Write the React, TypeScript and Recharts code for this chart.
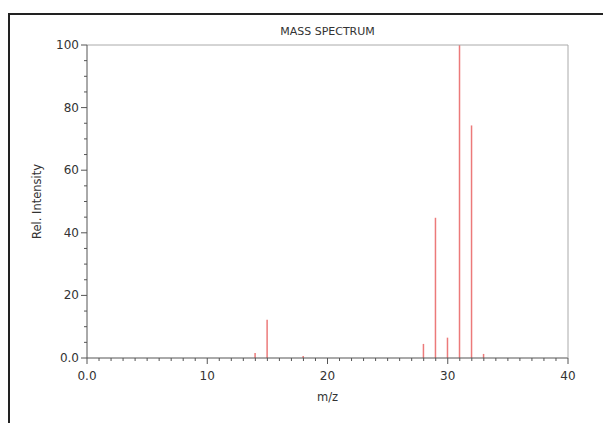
import { BarChart, Bar, XAxis, YAxis } from 'recharts';

// m/z values and relative intensities
const mzValues = [14, 15, 18, 28, 29, 30, 31, 32, 33];
const intensities = [1.6, 12.2, 0.6, 4.5, 44.8, 6.5, 100, 74.3, 1.3];

const xMajorTicks = [0, 10, 20, 30, 40];
const yMajorTicks = [0, 20, 40, 60, 80, 100];
const xMinorTicks = Array.from({ length: 41 }, (_, i) => i);
const yMinorTicks = Array.from({ length: 21 }, (_, i) => i * 5);

const data = mzValues.map((mz, i) => ({ mz, intensity: intensities[i] }));

const FONT = '"DejaVu Sans", sans-serif';
const AXIS = '#555';
const BOX = '#aaa';
const PEAK = '#ec7a7a';
const TEXT = '#333';

const fmt = (v: number) => (v === 0 ? '0.0' : String(v));

// minor tick line comes from recharts; majors get a longer line and a label
function XTick(props: any) {
  const { x, y, payload } = props;
  if (!xMajorTicks.includes(payload.value)) return null;
  return (
    <g>
      <line x1={x} x2={x} y1={y} y2={y + 3} stroke={AXIS} />
      <text
        x={x}
        y={y + 19}
        textAnchor='middle'
        fill={TEXT}
        fontSize={12}
        fontFamily={FONT}
      >
        {fmt(payload.value)}
      </text>
    </g>
  );
}

function YTick(props: any) {
  const { x, y, payload } = props;
  if (!yMajorTicks.includes(payload.value)) return null;
  return (
    <g>
      <line x1={x} x2={x - 3} y1={y} y2={y} stroke={AXIS} />
      <text
        x={x - 5}
        y={y + 4}
        textAnchor='end'
        fill={TEXT}
        fontSize={12}
        fontFamily={FONT}
      >
        {fmt(payload.value)}
      </text>
    </g>
  );
}

export default function App() {
  return (
    <div
      style={{
        position: 'relative',
        width: 603,
        height: 415,
        overflow: 'hidden',
        fontFamily: FONT,
      }}
    >
      <div
        style={{
          position: 'absolute',
          left: 0,
          top: 5,
          width: 620,
          height: 430,
          border: '2px solid #222',
        }}
      />
      <div
        style={{
          position: 'absolute',
          left: 79,
          width: 481,
          top: 17,
          textAlign: 'center',
          fontSize: 11,
          color: TEXT,
        }}
      >
        MASS SPECTRUM
      </div>
      <div style={{ position: 'absolute', left: 0, top: 0 }}>
        <BarChart
          width={603}
          height={415}
          data={data}
          margin={{ top: 36, right: 42, left: 0, bottom: 0 }}
        >
          <XAxis
            xAxisId='main'
            type='number'
            dataKey='mz'
            domain={[0, 40]}
            ticks={xMinorTicks}
            interval={0}
            tickSize={3}
            tickMargin={0}
            tick={<XTick />}
            tickLine={{ stroke: AXIS }}
            axisLine={{ stroke: AXIS }}
            height={65}
            label={{
              value: 'm/z',
              position: 'insideTop',
              offset: 35,
              style: { fill: TEXT, fontSize: 11.5, fontFamily: FONT },
            }}
          />
          <XAxis
            xAxisId='top'
            orientation='top'
            type='number'
            domain={[0, 40]}
            tick={false}
            tickLine={false}
            axisLine={{ stroke: BOX }}
            height={1}
          />
          <YAxis
            yAxisId='main'
            type='number'
            domain={[0, 100]}
            ticks={yMinorTicks}
            interval={0}
            tickSize={3}
            tickMargin={0}
            tick={<YTick />}
            tickLine={{ stroke: AXIS }}
            axisLine={{ stroke: AXIS }}
            width={79}
            label={{
              value: 'Rel. Intensity',
              angle: -90,
              position: 'insideLeft',
              offset: 29,
              style: {
                fill: TEXT,
                fontSize: 11.5,
                fontFamily: FONT,
                textAnchor: 'middle',
              },
            }}
          />
          <YAxis
            yAxisId='right'
            orientation='right'
            type='number'
            domain={[0, 100]}
            tick={false}
            tickLine={false}
            axisLine={{ stroke: BOX }}
            width={1}
          />
          <Bar
            xAxisId='main'
            yAxisId='main'
            dataKey='intensity'
            fill={PEAK}
            barSize={1.5}
            isAnimationActive={false}
          />
        </BarChart>
      </div>
    </div>
  );
}
